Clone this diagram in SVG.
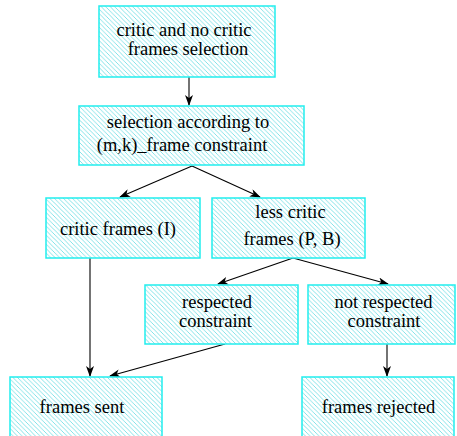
<svg xmlns="http://www.w3.org/2000/svg" width="457" height="436" viewBox="0 0 457 436">
<style>
.box{fill:url(#hatch);stroke:#22eeee;stroke-width:1.5}
text{font-family:'Liberation Serif','Times New Roman',serif;font-size:18.5px;fill:#000;text-anchor:middle}
.c{stroke:#000;stroke-width:1.1;fill:none;marker-end:url(#ah)}
</style>
<defs>
<pattern id="hatch" patternUnits="userSpaceOnUse" width="4.5" height="4.5">
<rect width="4.5" height="4.5" fill="#fff"/>
<path d="M-1,-1 L5.5,5.5 M-1,3.5 L1,5.5 M3.5,-1 L5.5,1" stroke="#77e0e6" stroke-width="0.9"/>
</pattern>
<marker id="ah" markerWidth="11" markerHeight="8" refX="10" refY="4" orient="auto" markerUnits="userSpaceOnUse">
<path d="M0,0 L11,4 L0,8 L3,4 Z" fill="#000"/>
</marker>
</defs>
<g id="connectors">
<line class="c" x1="189" y1="77" x2="189" y2="105"/>
<line class="c" x1="192" y1="166" x2="120" y2="197"/>
<line class="c" x1="192" y1="166" x2="260" y2="197"/>
<line class="c" x1="293" y1="258" x2="218" y2="284"/>
<line class="c" x1="293" y1="258" x2="388" y2="284"/>
<line class="c" x1="90" y1="258" x2="90" y2="376"/>
<line class="c" x1="225" y1="344" x2="110" y2="376"/>
<line class="c" x1="387" y1="344" x2="387" y2="376"/>
</g>
<g id="n1">
<rect class="box" x="99" y="6" width="176" height="71"/>
<text x="184" y="36">critic and no critic</text>
<text x="188" y="55">frames selection</text>
</g>
<g id="n2">
<rect class="box" x="79" y="106" width="225" height="59"/>
<text x="188" y="128">selection according to</text>
<text x="182" y="151">(m,k)_frame constraint</text>
</g>
<g id="n3">
<rect class="box" x="46" y="198" width="154" height="60"/>
<text x="118" y="235">critic frames (I)</text>
</g>
<g id="n4">
<rect class="box" x="212" y="198" width="153" height="60"/>
<text x="290.5" y="218">less critic</text>
<text x="292" y="245">frames (P, B)</text>
</g>
<g id="n5">
<rect class="box" x="145" y="285" width="153" height="59"/>
<text x="217" y="308">respected</text>
<text x="215.5" y="327">constraint</text>
</g>
<g id="n6">
<rect class="box" x="308" y="285" width="147" height="59"/>
<text x="383.5" y="308">not respected</text>
<text x="384" y="327">constraint</text>
</g>
<g id="n7">
<rect class="box" x="10" y="377" width="152" height="62"/>
<text x="82" y="413">frames sent</text>
</g>
<g id="n8">
<rect class="box" x="302" y="377" width="152" height="62"/>
<text x="378.5" y="413">frames rejected</text>
</g>
</svg>
